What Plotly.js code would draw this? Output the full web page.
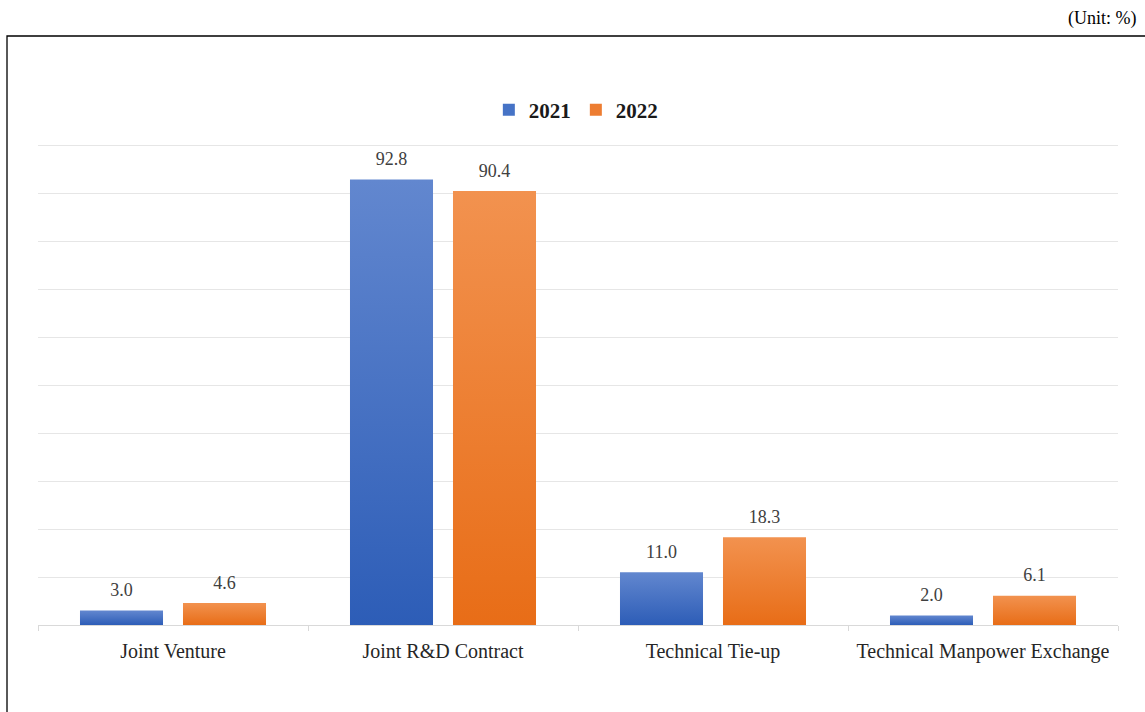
<!DOCTYPE html>
<html>
<head>
<meta charset="utf-8">
<script src="https://cdn.plot.ly/plotly-3.0.1.min.js"></script>
<style>
  html, body { margin: 0; padding: 0; background: #fff; }
  #chart { width: 1145px; height: 712px; }
</style>
</head>
<body>
<div id="chart"></div>
<script>
const categories = ["Joint Venture", "Joint R&D Contract", "Technical Tie-up", "Technical Manpower Exchange"];
const values2021 = [3.0, 92.8, 11.0, 2.0];
const values2022 = [4.6, 90.4, 18.3, 6.1];
const seriesNames = ["2021", "2022"];

const serif = "Liberation Serif, serif";
const labelFont = { family: serif, size: 18, color: "#404040" };

function barTrace(name, vals, color) {
  return {
    type: "bar", name: name, x: categories, y: vals,
    marker: { color: color }, hoverinfo: "x+y"
  };
}
function labelTrace(name, vals) {
  return {
    type: "scatter", mode: "markers+text", name: name, x: categories, y: vals,
    text: vals.map(v => v.toFixed(1)), textposition: "top center",
    textfont: labelFont, marker: { size: 14, opacity: 0, color: "#fff" },
    showlegend: false, cliponaxis: false, hoverinfo: "skip"
  };
}

const traces = [
  barTrace(seriesNames[0], values2021, "#4673c6"),
  barTrace(seriesNames[1], values2022, "#ed7d31"),
  labelTrace(seriesNames[0], values2021),
  labelTrace(seriesNames[1], values2022)
];

const layout = {
  width: 1145, height: 712,
  margin: { l: 38, r: 27, t: 143, b: 87, pad: 0 },
  paper_bgcolor: "#ffffff", plot_bgcolor: "#ffffff",
  barmode: "group", bargap: 0.237, bargroupgap: 0.194,
  scattermode: "group", scattergap: 0.237,
  showlegend: true,
  legend: {
    orientation: "h", x: 0.498, y: 1.068, xanchor: "center", yanchor: "middle",
    font: { family: serif, size: 21, color: "#1a1a1a", weight: "bold" },
    traceorder: "normal"
  },
  xaxis: {
    type: "category",
    tickson: "boundaries", ticks: "outside", ticklen: 5, tickcolor: "#d9d9d9",
    showline: true, linecolor: "#d9d9d9", linewidth: 1,
    tickfont: { family: serif, size: 20, color: "#262626" },
    ticklabelstandoff: 8,
    showgrid: false, fixedrange: true
  },
  yaxis: {
    range: [0, 100.42], dtick: 10, showticklabels: false,
    showgrid: true, gridcolor: "#e6e6e6", gridwidth: 1,
    zeroline: false, showline: false, ticks: "", fixedrange: true
  },
  annotations: [
    {
      text: "(Unit: %)", xref: "paper", yref: "paper",
      x: 1.0185, y: 1.2593, xanchor: "right", yanchor: "middle",
      showarrow: false, font: { family: serif, size: 18, color: "#000" }
    }
  ],
  shapes: [
    {
      type: "rect", xref: "paper", yref: "paper",
      x0: -0.0287, x1: 1.04, y0: -0.21, y1: 1.222,
      line: { color: "#000", width: 1.3 }, fillcolor: "rgba(0,0,0,0)", layer: "below"
    }
  ]
};

Plotly.newPlot("chart", traces, layout, { displayModeBar: false, staticPlot: true }).then(gd => {
  const svg = gd.querySelector("svg.main-svg");
  const ns = "http://www.w3.org/2000/svg";
  let defs = svg.querySelector("defs");
  if (!defs) { defs = document.createElementNS(ns, "defs"); svg.insertBefore(defs, svg.firstChild); }
  const grads = [["gradBlue", "#6287cf", "#2d5db7"], ["gradOrange", "#f2924f", "#e86d17"]];
  grads.forEach(([id, c1, c2]) => {
    const g = document.createElementNS(ns, "linearGradient");
    g.setAttribute("id", id);
    g.setAttribute("x1", "0"); g.setAttribute("y1", "0");
    g.setAttribute("x2", "0"); g.setAttribute("y2", "1");
    [[0, c1], [1, c2]].forEach(([o, c]) => {
      const s = document.createElementNS(ns, "stop");
      s.setAttribute("offset", o); s.setAttribute("stop-color", c);
      g.appendChild(s);
    });
    defs.appendChild(g);
  });
  const traceGroups = svg.querySelectorAll(".cartesianlayer .trace.bars");
  traceGroups.forEach((tg, i) => {
    tg.querySelectorAll("path").forEach(p => {
      p.style.fill = "url(#" + grads[i][0] + ")";
    });
  });
});
</script>
</body>
</html>
